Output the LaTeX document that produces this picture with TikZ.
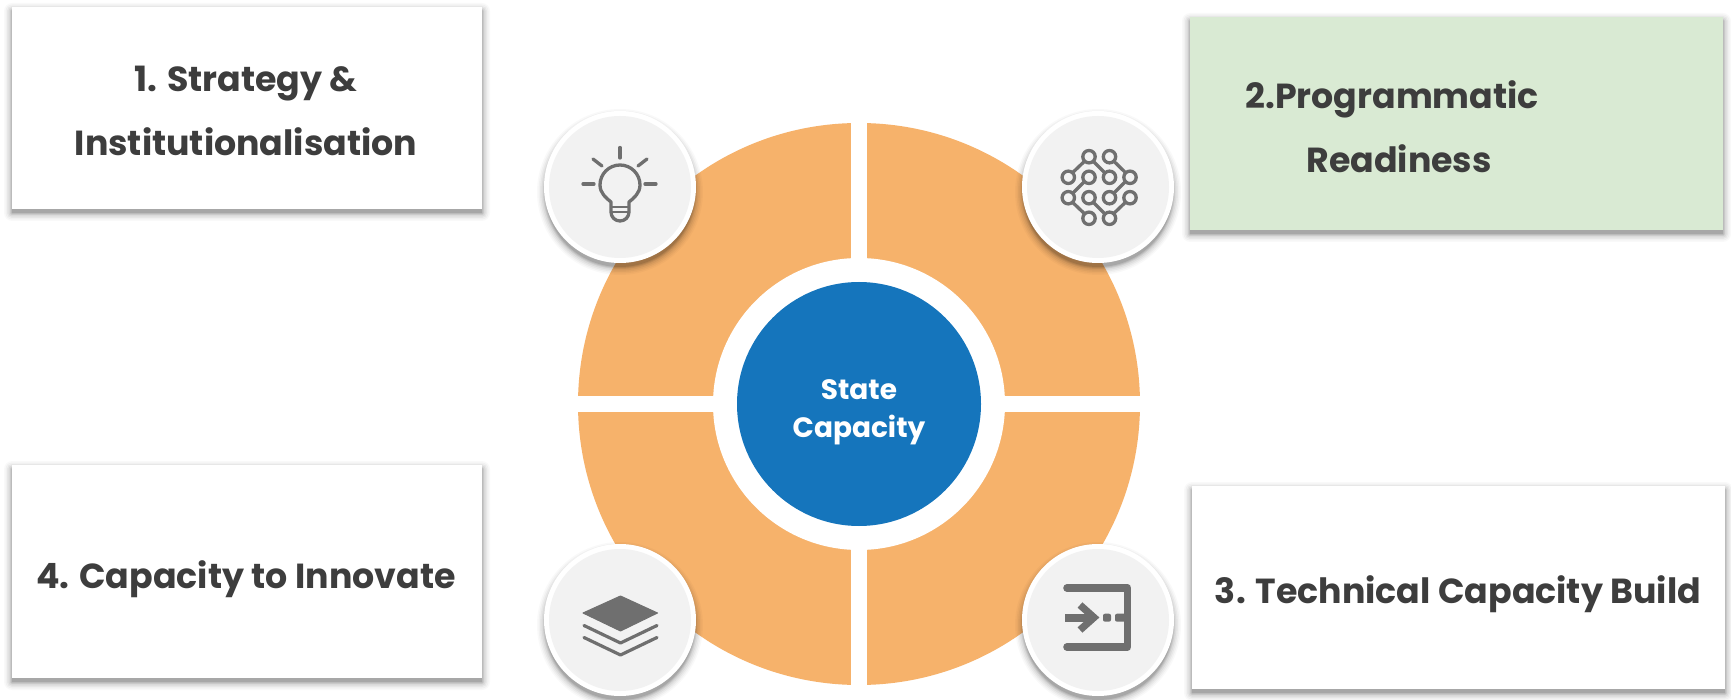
\documentclass[tikz,border=0pt]{standalone}
\usepackage{fontspec}
\setmainfont{Poppins}
\definecolor{orangefill}{HTML}{F6B26B}
\definecolor{blueinner}{HTML}{1575BC}
\definecolor{iconcol}{HTML}{6F6F6F}
\definecolor{txtcol}{HTML}{3D3D3D}
\definecolor{greenbox}{HTML}{D9EAD3}
\definecolor{circfill}{HTML}{F2F2F2}
\tikzset{
  lab/.style={font=\bfseries\fontsize{17.4}{20}\selectfont,text=txtcol,inner sep=0pt,anchor=center},
  hublab/.style={font=\bfseries\fontsize{14}{16}\selectfont,text=white,inner sep=0pt,anchor=center},
  icon/.style={draw=iconcol,line width=1.65pt,line cap=round,line join=round},
  iconsolid/.style={fill=iconcol,draw=iconcol,line width=0.5pt,line join=round},
}
\newcommand{\softrect}[5]{%
  \foreach \g/\o in {8/.025,6.5/.03,5/.04,3.5/.05,2/.07,1/.08,0/.10}{
    \fill[black,opacity=\o,rounded corners=\g*0.5pt] (#1-\g,#2-\g+4) rectangle (#3+\g,#4+\g+4);
  }
  \fill[#5] (#1,#2) rectangle (#3,#4);
}
\newcommand{\softcirc}[2]{%
  \foreach \g/\o in {8/.025,6.5/.03,5/.04,3.5/.05,2/.07,1/.08,0/.10}{
    \fill[black,opacity=\o] (#1,#2+5) circle ({76+\g-1});
  }
  \fill[white] (#1,#2) circle (76);
  \fill[circfill] (#1,#2) circle (71);
}
\begin{document}
\begin{tikzpicture}[x=0.5pt,y=-0.5pt]
\useasboundingbox (0,0) rectangle (1731,700);
\fill[white] (0,0) rectangle (1731,700);
% wheel
\fill[orangefill] (859,404) circle (281);
\fill[white] (859,404) circle (146);
\fill[white] (851,120) rectangle (867,690);
\fill[white] (575,396) rectangle (1143,412);
\node[circle,fill=blueinner,minimum size=122pt,inner sep=0pt] (hub) at (859,404) {};
\node[hublab] (st1) at (859,389.5) {State};
\node[hublab] (st2) at (859,430.5) {Capacity};
% boxes
\softrect{12}{7}{482}{209}{white}
\softrect{1190}{17}{1723}{230}{greenbox}
\softrect{12}{465}{482}{678}{white}
\softrect{1192}{486}{1725}{689}{white}
\node[lab] (b1a) at (246,84) {1. Strategy \&};
\node[lab] (b1b) at (246,142) {Institutionalisation};
\node[lab,anchor=west] (b2a) at (1245,99) {2.Programmatic};
\node[lab,anchor=west] (b2b) at (1306,159) {Readiness};
\node[lab] (b4) at (246,579) {4. Capacity to Innovate};
\node[lab] (b3) at (1458,594) {3. Technical Capacity Build};
% icon discs
\softcirc{620}{187}
\softcirc{1098}{187}
\softcirc{620}{620}
\softcirc{1098}{620}
% bulb icon
\begin{scope}[shift={(530,100)}]
\draw[icon] (90,47.5) -- (90,58);
\draw[icon] (63,59) -- (72,66);
\draw[icon] (117,59) -- (108,66);
\draw[icon] (53,84) -- (64,84);
\draw[icon] (115,84) -- (126,84);
\draw[icon] (81,102) .. controls (76,98) and (70,93) .. (70,85) arc[start angle=180,end angle=360,radius=20] .. controls (110,93) and (104,98) .. (99,102) -- (99,112) arc[start angle=0,end angle=180,radius=9] -- cycle;
\draw[icon,line width=1pt] (81,107) -- (99,107);
\draw[icon,line width=1pt] (81,112) -- (99,112);
\end{scope}
% network icon
\begin{scope}[shift={(1010,100)}]
\draw[icon] (79,57) -- (58,77) (79,57) -- (99,77) (99.5,57) -- (120,77)
  (79,77) -- (58,98) (120,77) -- (99,98)
  (58,98) -- (79,118) (79,98) -- (99,118) (120,98) -- (99,118);
\foreach \p in {79,99.5}{
  \filldraw[icon,fill=circfill] (\p,56.7) circle (6.2);
  \filldraw[icon,fill=circfill] (\p,118.3) circle (6.2);
}
\foreach \p in {58.3,79,99.5,120}{
  \filldraw[icon,fill=circfill] (\p,77.3) circle (6.2);
  \filldraw[icon,fill=circfill] (\p,97.7) circle (6.2);
}
\end{scope}
% layers icon
\begin{scope}[shift={(530,530)}]
\fill[iconsolid] (90.5,66) -- (127.5,83) -- (90.5,101) -- (53,83) -- cycle;
\draw[icon,line width=1.6pt] (54,95.5) -- (90.5,113) -- (127,95.5);
\draw[icon,line width=1.6pt] (54,107.5) -- (90.5,125) -- (127,107.5);
\end{scope}
% enter icon
\begin{scope}[shift={(1010,530)}]
\draw[icon,line width=3.8pt,line cap=round] (57,58) -- (117.5,58) -- (117.5,117) -- (57,117);
\draw[icon,line width=4pt,line cap=butt] (55,87.5) -- (80,87.5);
\draw[icon,line width=3.6pt,line cap=butt,line join=miter] (70,75) -- (84,87.5) -- (70,100);
\fill[iconcol,rounded corners=1pt] (93,83.7) rectangle (101,91.7);
\fill[iconcol,rounded corners=1pt] (105,83.7) rectangle (117,91.7);
\end{scope}
\end{tikzpicture}
\end{document}
